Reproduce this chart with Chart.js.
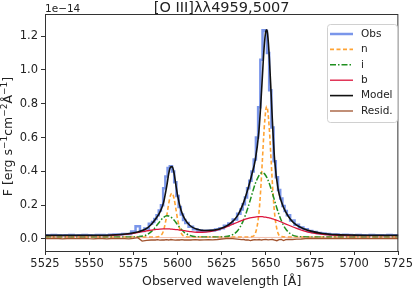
<!DOCTYPE html>
<html>
<head>
<meta charset="utf-8">
<script src="https://cdn.jsdelivr.net/npm/chart.js@4.4.1/dist/chart.umd.min.js"></script>
<style>
  body { margin: 0; background: #fff; }
  canvas { display: block; }
</style>
</head>
<body>
<canvas id="spec" width="415" height="289"></canvas>
<script>
// Fitted components, sampled in observed wavelength (Angstrom), flux in 1e-14
const modelWave = [5525, 5535, 5545, 5555, 5565, 5572, 5578, 5582, 5585, 5588,
  5590, 5592, 5594, 5595, 5596, 5597, 5598, 5599, 5600, 5602,
  5604, 5607, 5611, 5616, 5621, 5626, 5630, 5634, 5637, 5640,
  5642, 5644, 5646, 5647, 5648, 5649, 5650, 5650.5, 5651, 5652,
  5653, 5654, 5655, 5657, 5659, 5661, 5664, 5667, 5671, 5676,
  5682, 5690, 5700, 5712, 5725];

const nFlux = [0.012, 0.012, 0.012, 0.012, 0.012, 0.012, 0.012, 0.012, 0.012, 0.012,
  0.017, 0.047, 0.144, 0.208, 0.258, 0.271, 0.241, 0.183, 0.119, 0.037,
  0.015, 0.012, 0.012, 0.012, 0.012, 0.012, 0.012, 0.012, 0.012, 0.012,
  0.014, 0.032, 0.145, 0.278, 0.460, 0.645, 0.765, 0.785, 0.765, 0.645,
  0.460, 0.278, 0.145, 0.032, 0.014, 0.012, 0.012, 0.012, 0.012, 0.012,
  0.012, 0.012, 0.012, 0.012, 0.012];

const iFlux = [0.012, 0.012, 0.012, 0.012, 0.012, 0.012, 0.014, 0.022, 0.042, 0.077,
  0.104, 0.127, 0.137, 0.136, 0.131, 0.123, 0.112, 0.099, 0.085, 0.059,
  0.038, 0.021, 0.013, 0.012, 0.012, 0.013, 0.020, 0.049, 0.103, 0.190,
  0.260, 0.327, 0.374, 0.388, 0.392, 0.388, 0.374, 0.365, 0.354, 0.327,
  0.295, 0.260, 0.225, 0.158, 0.103, 0.063, 0.030, 0.017, 0.013, 0.012,
  0.012, 0.012, 0.012, 0.012, 0.012];

const bFlux = [0.020, 0.020, 0.020, 0.020, 0.023, 0.029, 0.039, 0.047, 0.052, 0.057,
  0.059, 0.060, 0.060, 0.060, 0.059, 0.058, 0.057, 0.056, 0.055, 0.052,
  0.049, 0.044, 0.040, 0.041, 0.049, 0.065, 0.082, 0.099, 0.112, 0.122,
  0.127, 0.130, 0.132, 0.132, 0.132, 0.130, 0.129, 0.128, 0.127, 0.125,
  0.122, 0.119, 0.115, 0.108, 0.099, 0.090, 0.077, 0.064, 0.050, 0.036,
  0.027, 0.022, 0.020, 0.020, 0.020];

const modelFlux = [0.022, 0.022, 0.022, 0.022, 0.025, 0.031, 0.043, 0.059, 0.084, 0.124,
  0.158, 0.212, 0.319, 0.385, 0.425, 0.428, 0.392, 0.325, 0.260, 0.170,
  0.120, 0.080, 0.058, 0.050, 0.053, 0.068, 0.092, 0.138, 0.205, 0.302,
  0.379, 0.467, 0.629, 0.776, 0.955, 1.130, 1.230, 1.237, 1.212, 1.068,
  0.855, 0.635, 0.463, 0.290, 0.215, 0.165, 0.115, 0.085, 0.062, 0.045,
  0.033, 0.026, 0.023, 0.022, 0.022];

// Observed spectrum and residual
const obsWave = [5525, 5527.5, 5530, 5532.5, 5535, 5537.5, 5540, 5542.5, 5545, 5547.5,
  5550, 5552.5, 5555, 5557.5, 5560, 5562.5, 5565, 5567.5, 5570, 5572.5,
  5575, 5577.5, 5580, 5582.5, 5585, 5586.25, 5587.5, 5588.75, 5590, 5591.25,
  5592.5, 5593.75, 5595, 5596.25, 5597.5, 5598.75, 5600, 5601.25, 5602.5, 5603.75,
  5605, 5607.5, 5610, 5612.5, 5615, 5617.5, 5620, 5622.5, 5625, 5627.5,
  5630, 5632.5, 5635, 5636.25, 5637.5, 5638.75, 5640, 5641.25, 5642.5, 5643.75,
  5645, 5646.25, 5647.5, 5648.75, 5650, 5651.25, 5652.5, 5653.75, 5655, 5656.25,
  5657.5, 5658.75, 5660, 5661.25, 5662.5, 5665, 5667.5, 5670, 5672.5, 5675,
  5677.5, 5680, 5682.5, 5685, 5687.5, 5690, 5692.5, 5695, 5697.5, 5700,
  5702.5, 5705, 5707.5, 5710, 5712.5, 5715, 5717.5, 5720, 5722.5, 5725];

const obsFlux = [0.022, 0.021, 0.023, 0.022, 0.020, 0.022, 0.023, 0.021, 0.022, 0.024,
  0.022, 0.021, 0.023, 0.024, 0.022, 0.025, 0.026, 0.027, 0.029, 0.030,
  0.045, 0.075, 0.048, 0.062, 0.090, 0.100, 0.118, 0.140, 0.168, 0.200,
  0.300, 0.370, 0.420, 0.430, 0.400, 0.335, 0.255, 0.190, 0.145, 0.112,
  0.094, 0.072, 0.058, 0.050, 0.048, 0.049, 0.050, 0.056, 0.064, 0.078,
  0.092, 0.115, 0.150, 0.175, 0.205, 0.245, 0.300, 0.345, 0.400, 0.470,
  0.600, 0.780, 1.060, 1.235, 1.230, 1.100, 0.880, 0.660, 0.460, 0.365,
  0.290, 0.240, 0.195, 0.165, 0.140, 0.110, 0.085, 0.068, 0.058, 0.048,
  0.042, 0.036, 0.032, 0.029, 0.027, 0.026, 0.024, 0.025, 0.023, 0.022,
  0.023, 0.022, 0.021, 0.023, 0.022, 0.022, 0.021, 0.023, 0.022, 0.022];

const residFlux = [0.003, 0.002, 0.004, 0.003, 0.001, 0.003, 0.004, 0.002, 0.003, 0.004,
  0.002, 0.001, 0.003, 0.003, 0.001, 0.003, 0.002, 0.002, 0.002, 0.001,
  0.004, 0.008, -0.012, -0.008, -0.006, -0.005, -0.006, -0.004, -0.007, -0.005,
  -0.006, -0.004, -0.006, -0.003, -0.005, -0.007, -0.005, -0.006, -0.004, -0.006,
  -0.005, -0.006, -0.004, -0.006, -0.005, -0.004, -0.005, -0.003, 0.000, 0.002,
  0.004, 0.001, -0.002, -0.004, -0.003, -0.006, -0.005, -0.009, -0.006, -0.004,
  -0.005, -0.003, -0.006, -0.004, -0.002, -0.005, -0.004, -0.003, -0.006, -0.010,
  -0.004, -0.003, -0.009, -0.004, -0.002, -0.003, -0.001, 0.000, 0.002, 0.003,
  0.003, 0.002, 0.004, 0.003, 0.002, 0.003, 0.004, 0.002, 0.003, 0.003,
  0.002, 0.004, 0.003, 0.002, 0.003, 0.003, 0.002, 0.004, 0.003, 0.003];

// faint line under the residual (not in legend)
const faintWave = [5525, 5550, 5575, 5577.5, 5580, 5600, 5625, 5650, 5675, 5700, 5725];
const faintFlux = [0.010, 0.011, 0.010, 0.013, 0.008, 0.009, 0.010, 0.009, 0.010, 0.011, 0.010];

const xTicks = [5525, 5550, 5575, 5600, 5625, 5650, 5675, 5700, 5725];
const yTicks = [0.0, 0.2, 0.4, 0.6, 0.8, 1.0, 1.2];

const titleText = "[O III]\u03bb\u03bb4959,5007";
const font = "'DejaVu Sans', sans-serif";

const pts = (xs, ys) => xs.map((x, i) => ({ x: x, y: ys[i] }));

// frame, title, offset text, y label and legend
const decor = {
  id: "decor",
  afterDraw(chart) {
    const c = chart.ctx;
    const a = chart.chartArea;
    c.save();
    c.strokeStyle = "#333";
    c.lineWidth = 1;
    c.strokeRect(a.left + 0.5, a.top + 0.5, a.right - a.left - 1, a.bottom - a.top);

    c.fillStyle = "#222";
    c.textBaseline = "alphabetic";
    c.font = "14.5px " + font;
    c.textAlign = "center";
    c.fillText(titleText, (a.left + a.right) / 2, 12);
    c.font = "10.5px " + font;
    c.textAlign = "left";
    c.fillText("1e\u221214", a.left, 12);

    // y label with superscripts
    const parts = [["F [erg s", 0], ["\u22121", 1], ["cm", 0], ["\u22122", 1], ["\u00c5", 0], ["\u22121", 1], ["]", 0]];
    const big = "12.5px " + font, small = "9px " + font;
    let total = 0;
    parts.forEach(p => { c.font = p[1] ? small : big; total += c.measureText(p[0]).width; });
    c.save();
    c.translate(9, (a.top + a.bottom) / 2 + 4);
    c.rotate(-Math.PI / 2);
    c.textBaseline = "middle";
    let x = -total / 2;
    parts.forEach(p => {
      c.font = p[1] ? small : big;
      c.fillText(p[0], x, p[1] ? -4 : 0);
      x += c.measureText(p[0]).width;
    });
    c.restore();

    // legend box
    const lx = 327, ly = 24, lw = 70, lh = 98;
    c.beginPath();
    c.roundRect(lx + 0.5, ly + 0.5, lw, lh, 3);
    c.fillStyle = "rgba(255,255,255,0.8)";
    c.fill();
    c.strokeStyle = "#d0d0d0";
    c.stroke();
    c.font = "10.5px " + font;
    c.textBaseline = "middle";
    c.textAlign = "left";
    chart.data.datasets.slice(0, 6).forEach((ds, k) => {
      const y = 34 + k * 15.4;
      c.beginPath();
      c.strokeStyle = ds.borderColor;
      c.lineWidth = ds.borderWidth;
      c.setLineDash(ds.borderDash || []);
      c.moveTo(330, y);
      c.lineTo(353, y);
      c.stroke();
      c.setLineDash([]);
      c.fillStyle = "#222";
      c.fillText(ds.label, 361, y);
    });
    c.restore();
  }
};

const ctx = document.getElementById("spec").getContext("2d");

new Chart(ctx, {
  type: "line",
  data: {
    datasets: [
      { label: "Obs", data: pts(obsWave, obsFlux), borderColor: "rgba(65,105,225,0.7)", borderWidth: 2.5, stepped: "middle", order: 6 },
      { label: "n", data: pts(modelWave, nFlux), borderColor: "rgba(255,140,0,0.8)", borderWidth: 1.6, borderDash: [4, 2.5], cubicInterpolationMode: "monotone", order: 5 },
      { label: "i", data: pts(modelWave, iFlux), borderColor: "#1f8f1f", borderWidth: 1.5, borderDash: [6, 2, 1.5, 2], cubicInterpolationMode: "monotone", order: 4 },
      { label: "b", data: pts(modelWave, bFlux), borderColor: "#dc143c", borderWidth: 1.3, cubicInterpolationMode: "monotone", order: 3 },
      { label: "Model", data: pts(modelWave, modelFlux), borderColor: "#111", borderWidth: 1.6, cubicInterpolationMode: "monotone", order: 2 },
      { label: "Resid.", data: pts(obsWave, residFlux), borderColor: "#a0522d", borderWidth: 1.3, order: 1 },
      { label: "", data: pts(faintWave, faintFlux), borderColor: "rgba(233,150,122,0.6)", borderWidth: 1, order: 1.5 }
    ]
  },
  options: {
    responsive: false,
    animation: false,
    devicePixelRatio: 1,
    layout: { padding: { top: 14, right: 13, left: 0, bottom: 0 } },
    elements: { point: { radius: 0 }, line: { tension: 0 } },
    plugins: { legend: { display: false }, tooltip: { enabled: false } },
    scales: {
      x: {
        type: "linear",
        min: 5525,
        max: 5725,
        afterBuildTicks: (s) => { s.ticks = xTicks.map(v => ({ value: v })); },
        afterFit: (s) => { s.height = 38; },
        grid: { drawOnChartArea: false, tickLength: 4, color: "#333" },
        border: { display: false },
        ticks: { color: "#222", font: { family: font, size: 11.5 }, padding: 2, maxRotation: 0, callback: (v) => String(v) },
        title: { display: true, text: "Observed wavelength [\u00c5]", color: "#222", font: { family: font, size: 12.5 }, padding: { top: 0, bottom: 0 } }
      },
      y: {
        min: -0.071,
        max: 1.331,
        afterBuildTicks: (s) => { s.ticks = yTicks.map(v => ({ value: v })); },
        afterFit: (s) => { s.width = 45; },
        grid: { drawOnChartArea: false, tickLength: 4, color: "#333" },
        border: { display: false },
        ticks: { color: "#222", font: { family: font, size: 11.5 }, padding: 3, callback: (v) => v.toFixed(1) }
      }
    }
  },
  plugins: [decor]
});
</script>
</body>
</html>
